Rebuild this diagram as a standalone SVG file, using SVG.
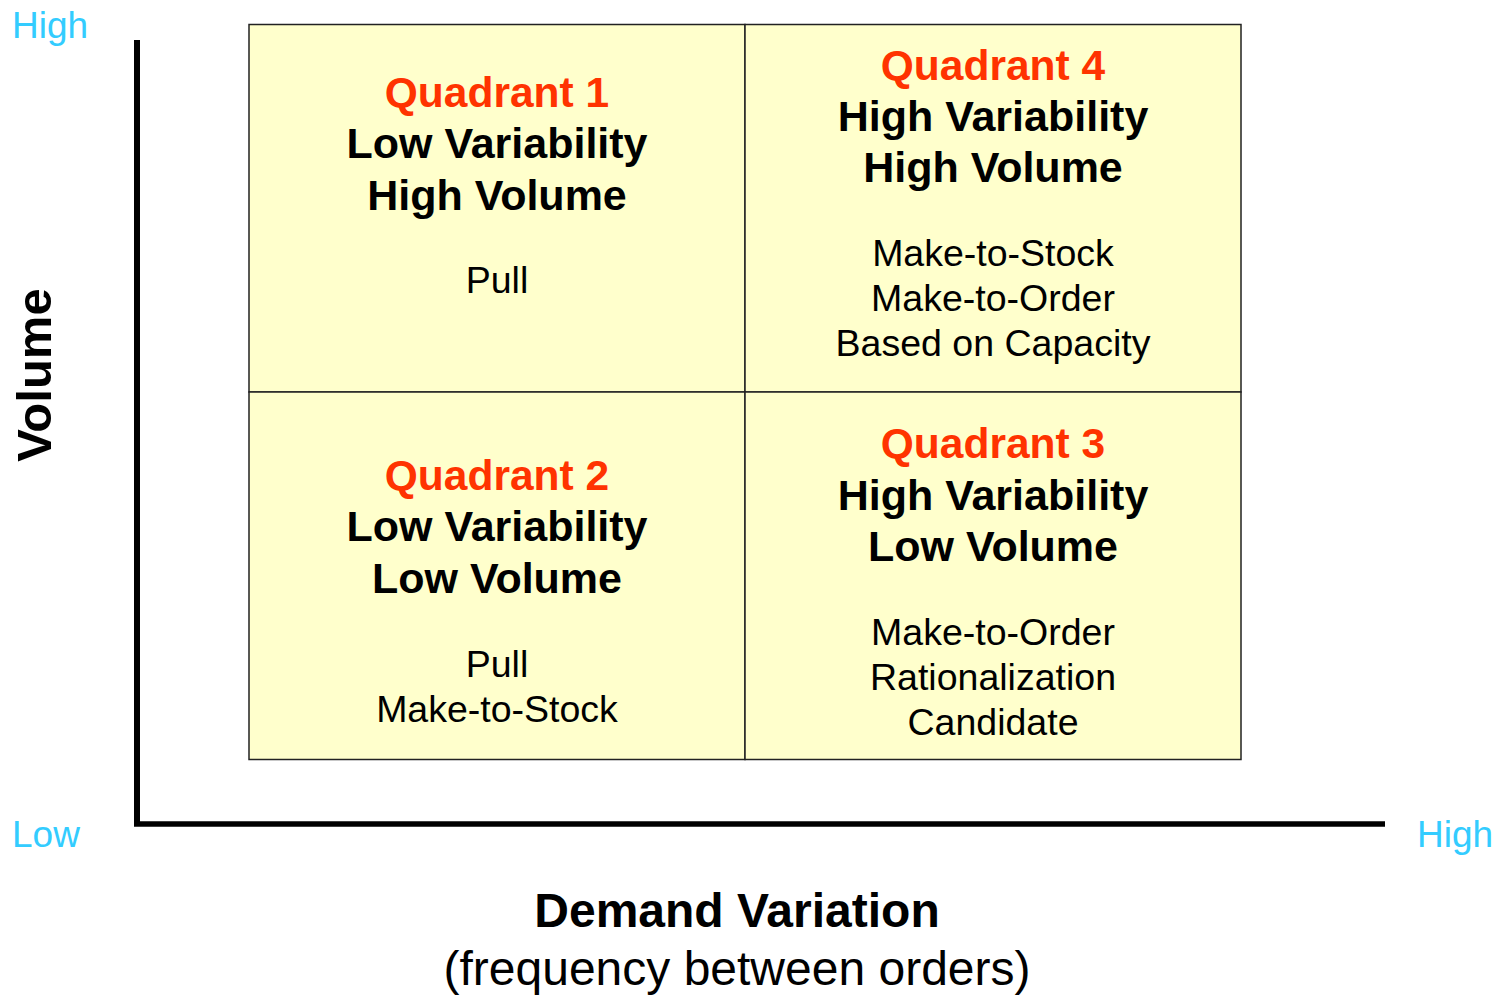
<svg xmlns="http://www.w3.org/2000/svg" width="1498" height="997" viewBox="0 0 1498 997">
<style>
.t{font-family:"Liberation Sans",Arial,sans-serif;text-anchor:middle}
.q{font-size:42.5px;font-weight:bold;fill:#FF3300}
.h{font-size:43px;font-weight:bold;fill:#000}
.b{font-size:37.5px;fill:#000}
.ax{font-family:"Liberation Sans",Arial,sans-serif;font-size:37px;fill:#33CCFF}
.cell{fill:#FFFFCC;stroke:#222;stroke-width:1.5}
</style>
<rect width="1498" height="997" fill="#fff"/>
<g id="axes">
<line x1="137" y1="40" x2="137" y2="824" stroke="#000" stroke-width="6"/>
<line x1="134" y1="824" x2="1385" y2="824" stroke="#000" stroke-width="5.5"/>
</g>
<g id="q1">
<rect class="cell" x="249" y="24.5" width="496" height="367.5"/>
<text class="t q" x="497" y="107">Quadrant 1</text>
<text class="t h" x="497" y="158">Low Variability</text>
<text class="t h" x="497" y="210">High Volume</text>
<text class="t b" x="497" y="293">Pull</text>
</g>
<g id="q4">
<rect class="cell" x="745" y="24.5" width="496" height="367.5"/>
<text class="t q" x="993" y="80">Quadrant 4</text>
<text class="t h" x="993" y="131">High Variability</text>
<text class="t h" x="993" y="182">High Volume</text>
<text class="t b" x="993" y="266">Make-to-Stock</text>
<text class="t b" x="993" y="311">Make-to-Order</text>
<text class="t b" x="993" y="356">Based on Capacity</text>
</g>
<g id="q2">
<rect class="cell" x="249" y="392" width="496" height="367.5"/>
<text class="t q" x="497" y="490">Quadrant 2</text>
<text class="t h" x="497" y="541">Low Variability</text>
<text class="t h" x="497" y="593">Low Volume</text>
<text class="t b" x="497" y="677">Pull</text>
<text class="t b" x="497" y="722">Make-to-Stock</text>
</g>
<g id="q3">
<rect class="cell" x="745" y="392" width="496" height="367.5"/>
<text class="t q" x="993" y="458">Quadrant 3</text>
<text class="t h" x="993" y="510">High Variability</text>
<text class="t h" x="993" y="561">Low Volume</text>
<text class="t b" x="993" y="645">Make-to-Order</text>
<text class="t b" x="993" y="690">Rationalization</text>
<text class="t b" x="993" y="735">Candidate</text>
</g>
<g id="labels">
<text class="ax" x="12" y="38">High</text>
<text class="ax" x="12" y="847">Low</text>
<text class="ax" x="1417" y="847">High</text>
<text class="t" x="0" y="0" transform="translate(51,375) rotate(-90)" font-size="49" font-weight="bold">Volume</text>
<text class="t" x="737" y="927" font-size="48" font-weight="bold">Demand Variation</text>
<text class="t" x="737" y="985" font-size="48">(frequency between orders)</text>
</g>
</svg>
